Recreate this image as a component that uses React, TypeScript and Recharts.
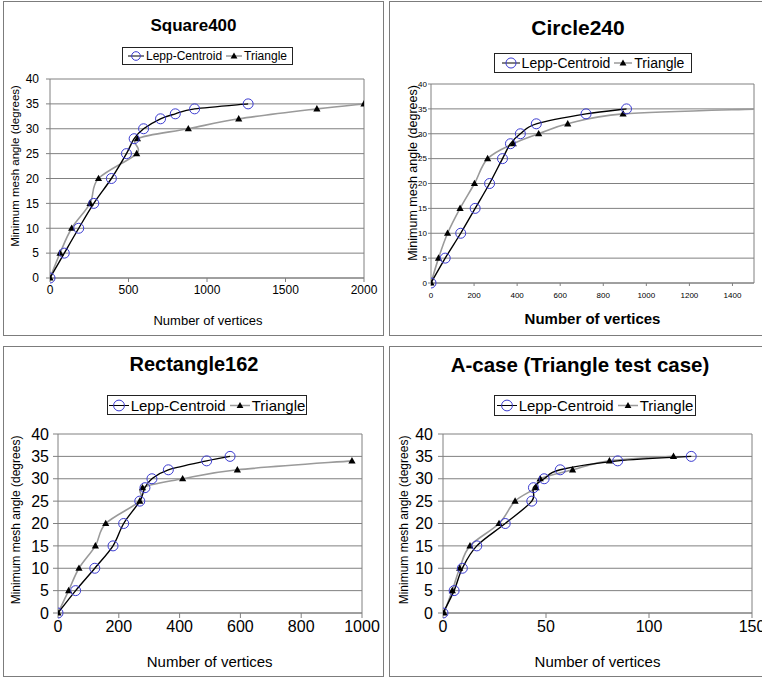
import React from 'react';
import { LineChart, Line, XAxis, YAxis, CartesianGrid, Legend, ReferenceLine } from 'recharts';

const FONT = '"Liberation Sans", Arial, Helvetica, sans-serif';

// ---- data ----
const yTicks = [0, 5, 10, 15, 20, 25, 30, 35, 40];

const square400Lepp: [number, number][] = [[0, 0], [91, 5], [183, 10], [279, 15], [391, 20], [487, 25], [536, 28], [596, 30], [704, 32], [798, 33], [921, 34], [1262, 35]];
const square400Tri: [number, number][] = [[0, 0], [64, 5], [138, 10], [255, 15], [309, 20], [552, 25], [557, 28], [881, 30], [1202, 32], [1700, 34], [2000, 35]];
const square400XTicks = [0, 500, 1000, 1500, 2000];

const circle240Lepp: [number, number][] = [[0, 0], [66, 5], [138, 10], [205, 15], [272, 20], [332, 25], [369, 28], [415, 30], [489, 32], [720, 34], [908, 35]];
const circle240Tri: [number, number][] = [[0, 0], [35, 5], [77, 10], [135, 15], [202, 20], [263, 25], [382, 28], [500, 30], [635, 32], [892, 34], [1530, 35]];
const circle240XTicks = [0, 200, 400, 600, 800, 1000, 1200, 1400];

const rect162Lepp: [number, number][] = [[0, 0], [58, 5], [121, 10], [181, 15], [216, 20], [269, 25], [286, 28], [309, 30], [363, 32], [489, 34], [566, 35]];
const rect162Tri: [number, number][] = [[0, 0], [35, 5], [69, 10], [123, 15], [157, 20], [269, 25], [278, 28], [410, 30], [590, 32], [967, 34]];
const rect162XTicks = [0, 200, 400, 600, 800, 1000];

const acaseLepp: [number, number][] = [[0, 0], [5.4, 5], [9.4, 10], [16.4, 15], [30.2, 20], [43.1, 25], [43.9, 28], [49.1, 30], [56.9, 32], [84.8, 34], [120.5, 35]];
const acaseTri: [number, number][] = [[0.5, 0], [4.5, 5], [8.1, 10], [13.1, 15], [27.2, 20], [35, 25], [45.2, 28], [47.2, 30], [62.9, 32], [80.8, 34], [111.9, 35]];
const acaseXTicks = [0, 50, 100, 150];

const toPts = (arr: [number, number][]) => arr.map(([x, y]) => ({ x, y }));

// Excel-like smoothed line (Catmull-Rom as cubic Bezier)
function smoothCurve(context: any) {
  let pts: [number, number][] = [];
  return {
    areaStart() {},
    areaEnd() {},
    lineStart() { pts = []; },
    point(x: number, y: number) { pts.push([+x, +y]); },
    lineEnd() {
      const n = pts.length;
      if (n === 0) return;
      context.moveTo(pts[0][0], pts[0][1]);
      for (let i = 0; i < n - 1; i++) {
        const p0 = pts[i - 1] || pts[i];
        const p1 = pts[i];
        const p2 = pts[i + 1];
        const p3 = pts[i + 2] || p2;
        context.bezierCurveTo(
          p1[0] + (p2[0] - p0[0]) / 6, p1[1] + (p2[1] - p0[1]) / 6,
          p2[0] - (p3[0] - p1[0]) / 6, p2[1] - (p3[1] - p1[1]) / 6,
          p2[0], p2[1]
        );
      }
    },
  };
}

const CIRCLE = '#3b3bd0';
const GRAY_LINE = '#9a9a9a';
const AXIS = '#808080';

const LeppDot = (props: any) => {
  const { cx, cy, index } = props;
  if (cx == null || cy == null) return null;
  return <circle key={`l${index}`} cx={cx} cy={cy} r={5} fill="none" stroke={CIRCLE} strokeWidth={1} />;
};
const TriDot = (props: any) => {
  const { cx, cy, index } = props;
  if (cx == null || cy == null) return null;
  return <polygon key={`t${index}`} points={`${cx},${cy - 3.8} ${cx - 3.6},${cy + 2.6} ${cx + 3.6},${cy + 2.6}`} fill="#000" />;
};

const LegendBox = ({ fontSize }: { fontSize: number }) => {
  const len = Math.round(fontSize * 1.3);
  const h = Math.round(fontSize);
  return (
    <div style={{ width: '100%', height: '100%', boxSizing: 'border-box', border: '1px solid #222', background: '#fff', display: 'flex', alignItems: 'center', justifyContent: 'center', fontFamily: FONT, fontSize, color: '#000', whiteSpace: 'nowrap', lineHeight: 1 }}>
      <svg width={len} height={h} style={{ marginRight: 2 }}>
        <line x1={0} y1={h / 2} x2={len} y2={h / 2} stroke="#000" strokeWidth={1} />
        <circle cx={len / 2} cy={h / 2} r={h * 0.36} fill="none" stroke={CIRCLE} strokeWidth={1} />
      </svg>
      <span>Lepp-Centroid</span>
      <svg width={len} height={h} style={{ marginLeft: 4, marginRight: 2 }}>
        <line x1={0} y1={h / 2} x2={len} y2={h / 2} stroke={GRAY_LINE} strokeWidth={1.5} />
        <polygon points={`${len / 2},${h / 2 - 3.5} ${len / 2 - 3.4},${h / 2 + 2.5} ${len / 2 + 3.4},${h / 2 + 2.5}`} fill="#000" />
      </svg>
      <span>Triangle</span>
    </div>
  );
};

type PanelProps = {
  left: number; top: number; width: number; height: number;
  title: string; titleSize: number; titleCx: number; titleCy: number;
  lepp: [number, number][]; tri: [number, number][];
  xTicks: number[]; xMax: number;
  margin: { top: number; right: number; bottom: number; left: number };
  yAxisWidth: number; xAxisHeight: number; tickFont: number;
  yTickSize: number; yTickMargin: number; xTickSize: number; xTickMargin: number;
  yLabelX: number; yLabelY: number; yLabelSize: number;
  xLabelX: number; xLabelY: number; xLabelSize: number; xLabelBold?: boolean;
  legend: { left: number; top: number; width: number; height: number; fontSize: number };
};

const Panel = (p: PanelProps) => {
  return (
    <div style={{ position: 'absolute', left: p.left, top: p.top, width: p.width + 1, height: p.height + 1, boxSizing: 'border-box', border: '1px solid #7c7c7c', background: '#fff' }}>
      <div style={{ position: 'absolute', left: -1, top: -1, width: p.width, height: p.height }}>
        <div style={{ position: 'absolute', left: p.titleCx - 180, width: 360, top: p.titleCy - p.titleSize / 2, height: p.titleSize, lineHeight: `${p.titleSize}px`, textAlign: 'center', fontFamily: FONT, fontWeight: 'bold', fontSize: p.titleSize, color: '#000', whiteSpace: 'nowrap' }}>{p.title}</div>
        <LineChart width={p.width} height={p.height} margin={p.margin} style={{ position: 'absolute', left: 0, top: 0 }}>
          <CartesianGrid horizontal vertical={false} stroke={AXIS} strokeWidth={1} />
          <ReferenceLine x={p.xMax} stroke={AXIS} strokeWidth={1} />
          <XAxis
            type="number" dataKey="x" domain={[0, p.xMax]} ticks={p.xTicks} allowDataOverflow interval={0}
            height={p.xAxisHeight} stroke={AXIS} tickSize={p.xTickSize} tickMargin={p.xTickMargin}
            tick={{ fontSize: p.tickFont, fill: '#000', fontFamily: FONT }}
            axisLine={{ stroke: AXIS }} tickLine={{ stroke: AXIS }}
            label={{
              content: () => (
                <text x={p.xLabelX} y={p.xLabelY} textAnchor="middle" dominantBaseline="central" fontFamily={FONT} fontSize={p.xLabelSize} fontWeight={p.xLabelBold ? 'bold' : 'normal'} fill="#000">Number of vertices</text>
              ),
            }}
          />
          <YAxis
            type="number" domain={[0, 40]} ticks={yTicks} interval={0} width={p.yAxisWidth}
            stroke={AXIS} tickSize={p.yTickSize} tickMargin={p.yTickMargin}
            tick={{ fontSize: p.tickFont, fill: '#000', fontFamily: FONT }}
            axisLine={{ stroke: AXIS }} tickLine={{ stroke: AXIS }}
            label={{
              content: () => (
                <text x={p.yLabelX} y={p.yLabelY} transform={`rotate(-90 ${p.yLabelX} ${p.yLabelY})`} textAnchor="middle" dominantBaseline="central" fontFamily={FONT} fontSize={p.yLabelSize} fill="#000">Minimum mesh angle (degrees)</text>
              ),
            }}
          />
          <Legend
            verticalAlign="middle" align="center" layout="horizontal"
            wrapperStyle={{ left: p.legend.left, top: p.legend.top, width: p.legend.width, height: p.legend.height }}
            content={() => <LegendBox fontSize={p.legend.fontSize} />}
          />
          <Line name="Triangle" data={toPts(p.tri)} dataKey="y" type={smoothCurve as any} stroke={GRAY_LINE} strokeWidth={1.6} dot={TriDot} activeDot={false} isAnimationActive={false} />
          <Line name="Lepp-Centroid" data={toPts(p.lepp)} dataKey="y" type={smoothCurve as any} stroke="#000" strokeWidth={1.4} dot={LeppDot} activeDot={false} isAnimationActive={false} />
        </LineChart>
      </div>
    </div>
  );
};

export default function App() {
  return (
    <div style={{ position: 'absolute', left: 0, top: 0, width: 762, height: 681, background: '#fff', overflow: 'hidden' }}>
      <Panel
        left={3} top={1} width={380} height={334}
        title="Square400" titleSize={17} titleCx={190.5} titleCy={24}
        lepp={square400Lepp} tri={square400Tri} xTicks={square400XTicks} xMax={2000}
        margin={{ top: 78, right: 19, bottom: 27, left: 7 }} yAxisWidth={40} xAxisHeight={30} tickFont={12}
        yTickSize={4} yTickMargin={7} xTickSize={4} xTickMargin={3}
        yLabelX={12} yLabelY={165} yLabelSize={11.5}
        xLabelX={205} xLabelY={319} xLabelSize={13}
        legend={{ left: 119, top: 46, width: 171, height: 18, fontSize: 12 }}
      />
      <Panel
        left={389} top={1} width={376} height={334}
        title="Circle240" titleSize={21} titleCx={189} titleCy={26}
        lepp={circle240Lepp} tri={circle240Tri} xTicks={circle240XTicks} xMax={1500}
        margin={{ top: 83, right: 11, bottom: 22, left: 6 }} yAxisWidth={36} xAxisHeight={30} tickFont={8}
        yTickSize={3} yTickMargin={1} xTickSize={3} xTickMargin={6}
        yLabelX={23.7} yLabelY={172} yLabelSize={12.5}
        xLabelX={203.5} xLabelY={317} xLabelSize={15} xLabelBold
        legend={{ left: 105, top: 52, width: 198, height: 20, fontSize: 14 }}
      />
      <Panel
        left={3} top={346} width={380} height={330}
        title="Rectangle162" titleSize={20} titleCx={191} titleCy={18}
        lepp={rect162Lepp} tri={rect162Tri} xTicks={rect162XTicks} xMax={1000}
        margin={{ top: 88, right: 21, bottom: 28, left: 10 }} yAxisWidth={45} xAxisHeight={35} tickFont={16}
        yTickSize={5} yTickMargin={4} xTickSize={5} xTickMargin={3}
        yLabelX={13} yLabelY={174} yLabelSize={12}
        xLabelX={206.7} xLabelY={315.7} xLabelSize={15}
        legend={{ left: 104, top: 49, width: 200, height: 20, fontSize: 15 }}
      />
      <Panel
        left={389} top={346} width={376} height={330}
        title="A-case (Triangle test case)" titleSize={20.5} titleCx={191} titleCy={19}
        lepp={acaseLepp} tri={acaseTri} xTicks={acaseXTicks} xMax={150}
        margin={{ top: 88, right: 13, bottom: 28, left: 10 }} yAxisWidth={44} xAxisHeight={35} tickFont={16}
        yTickSize={5} yTickMargin={5} xTickSize={5} xTickMargin={3}
        yLabelX={14.7} yLabelY={174} yLabelSize={12}
        xLabelX={208.5} xLabelY={315.7} xLabelSize={15}
        legend={{ left: 105, top: 49, width: 202, height: 21, fontSize: 15 }}
      />
    </div>
  );
}
